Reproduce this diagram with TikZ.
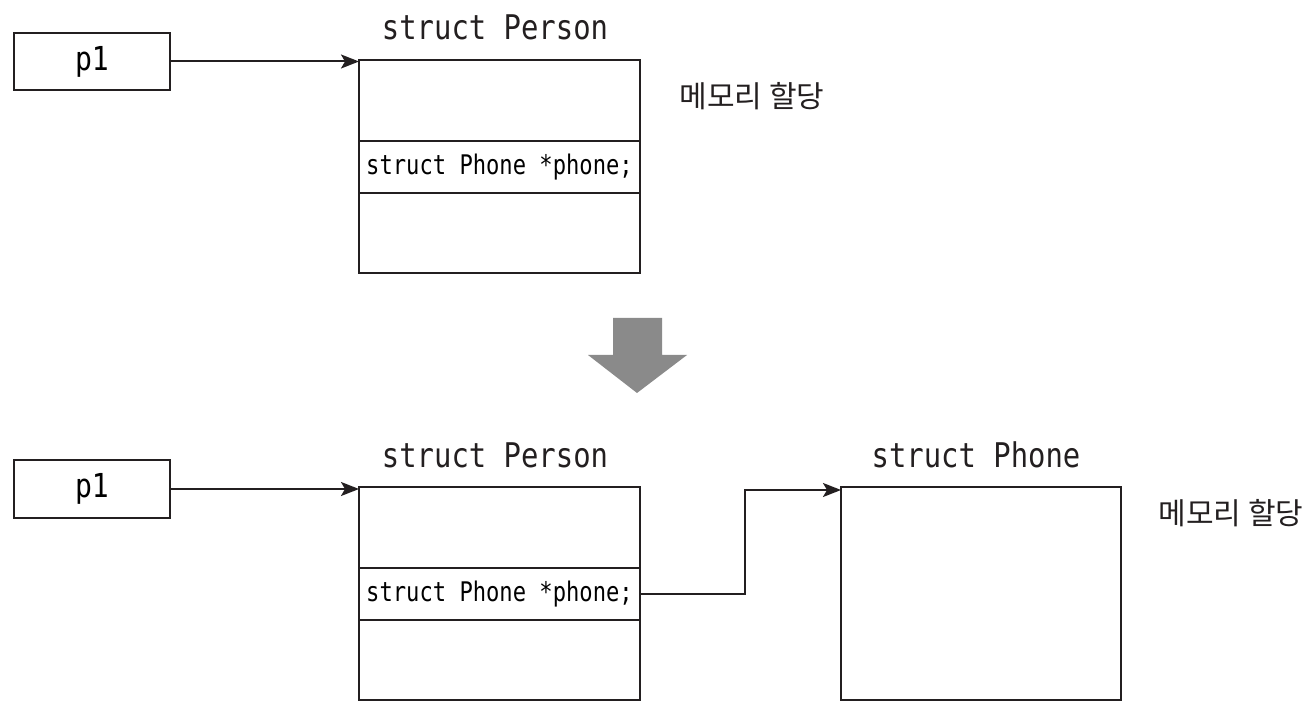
\documentclass[tikz,border=0pt]{standalone}
\usepackage{fontspec}
\usepackage{tikz}
\usetikzlibrary{positioning}
\usetikzlibrary{arrows.meta}
\usepackage{xcolor}
\definecolor{myline}{RGB}{35,31,32}
\definecolor{mygray}{RGB}{138,138,138}
\newfontfamily\codefont{DejaVu Sans Mono}[FakeStretch=0.85]
\newfontfamily\cellfont{DejaVu Sans Mono}[FakeStretch=0.82]
\newfontfamily\krfont{Noto Sans CJK KR}

\begin{document}
\begin{tikzpicture}[x=0.5pt,y=-0.5pt,
    >={Stealth[length=9pt,width=7pt,inset=2pt]},
    cell/.style={draw=myline, line width=1pt, minimum width=140.5pt, inner sep=0pt, outer sep=0pt},
    ptr/.style={draw=myline, line width=1pt, minimum width=78pt, minimum height=28.5pt, inner sep=0pt, outer sep=0pt, font=\codefont\fontsize{16.5}{18}\selectfont},
    title/.style={font=\codefont\fontsize{17}{19}\selectfont, text=myline},
    kr/.style={font=\krfont\fontsize{15}{17}\selectfont, text=myline},
    link/.style={->, draw=myline, line width=1pt}]

\useasboundingbox (0,0) rectangle (1312,716);

%T: before allocation
\node[ptr] (p1a) at (92,61.5) {p1};

\node[cell, minimum height=40.5pt, anchor=north west] (pa1) at (359,60) {};
\node[cell, minimum height=26pt, below=0pt of pa1] (pb1) {\cellfont\fontsize{13.5}{15}\selectfont struct Phone *phone;};
\node[cell, minimum height=40pt, below=0pt of pb1] (pc1) {};
\node[title] (tp1) at (495,27) {struct Person};

\node[kr] (mem1) at (752,96) {메모리 할당};

% gray arrow
\fill[mygray] (613,318) -- (662,318) -- (662,355) -- (687,355) -- (637,393)
    -- (588,355) -- (613,355) -- cycle;

%B: after allocation
\node[ptr] (p1b) at (92,489) {p1};

\node[cell, minimum height=40.5pt, anchor=north west] (pa2) at (359,487) {};
\node[cell, minimum height=26pt, below=0pt of pa2] (pb2) {\cellfont\fontsize{13.5}{15}\selectfont struct Phone *phone;};
\node[cell, minimum height=40pt, below=0pt of pb2] (pc2) {};
\node[title] (tp2) at (495,455) {struct Person};

\node[cell, minimum width=140pt, minimum height=106.5pt, anchor=north west] (ph) at (841,487) {};
\node[title] (tph) at (976,455) {struct Phone};

\node[kr] (mem2) at (1231,513) {메모리 할당};

% pointers
\draw[link] (p1a.east) -- (p1a.east -| pa1.west);
\draw[link] (p1b.east) -- (p1b.east -| pa2.west);
\draw[link] (pb2.east) -- ++(105,0) |- ([yshift=-1.5pt]ph.north west);

\end{tikzpicture}
\end{document}
